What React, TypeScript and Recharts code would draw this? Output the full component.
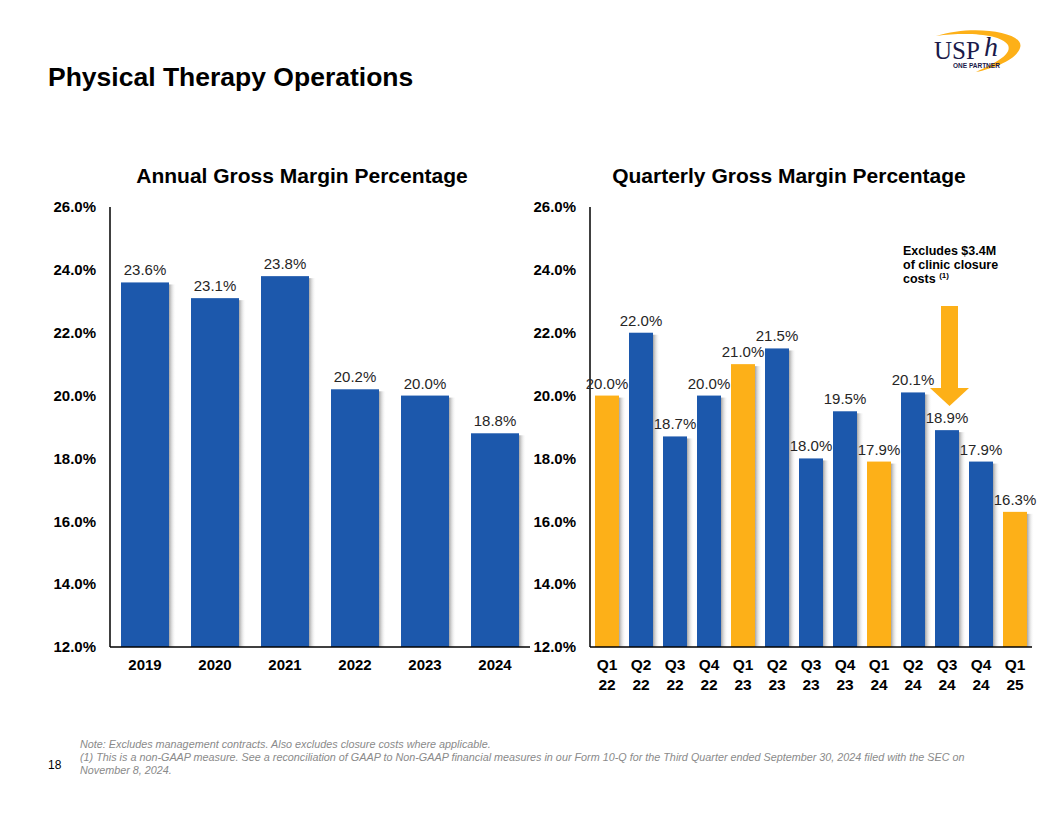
import React from "react";
import { BarChart, Bar, XAxis, YAxis, LabelList } from "recharts";

const annualYears = ["2019", "2020", "2021", "2022", "2023", "2024"];
const annualMargin = [23.6, 23.1, 23.8, 20.2, 20.0, 18.8];

const quarterLabels = ["Q1 22", "Q2 22", "Q3 22", "Q4 22", "Q1 23", "Q2 23", "Q3 23", "Q4 23", "Q1 24", "Q2 24", "Q3 24", "Q4 24", "Q1 25"];
const quarterMargin = [20.0, 22.0, 18.7, 20.0, 21.0, 21.5, 18.0, 19.5, 17.9, 20.1, 18.9, 17.9, 16.3];

const yTicks = [12, 14, 16, 18, 20, 22, 24, 26];

const BLUE = "#1C58AC";
const ORANGE = "#FDB018";
const FONT = "'Liberation Sans', Arial, sans-serif";

const annualData = annualYears.map((y, i) => ({ label: y, value: annualMargin[i] }));
const quarterData = quarterLabels.map((q, i) => ({ label: q, value: quarterMargin[i] }));

const fmt = (v: number) => v.toFixed(1) + "%";

const ShadowBar = (props: any) => {
  const { x, y, width, height, payload } = props;
  if (height == null || height <= 0) return null;
  const isQ1 = typeof payload?.label === "string" && payload.label.startsWith("Q1 ");
  const fill = isQ1 ? ORANGE : BLUE;
  return (
    <g>
      <rect x={x + width} y={y + 2} width={7} height={height - 2} fill="url(#barShadow)" />
      <rect x={x} y={y} width={width} height={height} fill={fill} />
    </g>
  );
};

const QuarterTick = (props: any) => {
  const { x, y, payload } = props;
  const [a, b] = String(payload.value).split(" ");
  return (
    <g>
      <text x={x} y={y + 15} textAnchor="middle" fontFamily={FONT} fontWeight="bold" fontSize={15.5} fill="#000">{a}</text>
      <text x={x} y={y + 35} textAnchor="middle" fontFamily={FONT} fontWeight="bold" fontSize={15.5} fill="#000">{b}</text>
    </g>
  );
};

const yTickStyle = { fontFamily: FONT, fontWeight: "bold", fontSize: 15, fill: "#000" } as any;
const labelStyle = { fontFamily: FONT, fontSize: 15, fill: "#262626" } as any;

export default function App() {
  return (
    <div style={{ position: "relative", width: 1056, height: 816, background: "#fff", overflow: "hidden", fontFamily: FONT }}>
      <style>{`body{margin:0;}`}</style>
      <svg width={0} height={0} style={{ position: "absolute" }}>
        <defs>
          <linearGradient id="barShadow" x1="0" y1="0" x2="1" y2="0">
            <stop offset="0%" stopColor="#9a9a9a" stopOpacity={0.9} />
            <stop offset="100%" stopColor="#ffffff" stopOpacity={0} />
          </linearGradient>
        </defs>
      </svg>

      <div style={{ position: "absolute", left: 48, top: 62, fontSize: 26.5, fontWeight: "bold", color: "#000" }}>
        Physical Therapy Operations
      </div>

      {/* Logo */}
      <svg style={{ position: "absolute", left: 928, top: 26 }} width={100} height={50}>
        <path d="M8 10 C 45 -2, 98 6, 92 22 C 88 34, 66 42, 48 46 C 70 36, 84 28, 80 19 C 72 8, 40 6, 8 10 Z" fill={ORANGE} />
        <text x={6} y={33} fontFamily="'Liberation Serif', 'DejaVu Serif', serif" fontSize={25} fill="#1a1a4a">USP</text>
        <text x={56} y={30} fontFamily="'Liberation Serif', 'DejaVu Serif', serif" fontStyle="italic" fontSize={28} fill="#1a1a4a">h</text>
        <text x={25} y={42} fontFamily={FONT} fontWeight="bold" fontSize={6.5} fill="#1a1a4a">ONE PARTNER</text>
      </svg>

      <div style={{ position: "absolute", left: 102, width: 400, top: 164, textAlign: "center", fontSize: 21, fontWeight: "bold" }}>
        Annual Gross Margin Percentage
      </div>
      <div style={{ position: "absolute", left: 579, width: 420, top: 164, textAlign: "center", fontSize: 21, fontWeight: "bold" }}>
        Quarterly Gross Margin Percentage
      </div>

      <div style={{ position: "absolute", left: 0, top: 190 }}>
        <BarChart width={560} height={500} data={annualData} margin={{ top: 17, right: 30, bottom: 13, left: 0 }}>
          <XAxis dataKey="label" axisLine={{ stroke: "#000", strokeWidth: 1.5 }} tickLine={false} height={30}
            tick={{ fontFamily: FONT, fontWeight: "bold", fontSize: 15, fill: "#000" } as any} tickMargin={6} interval={0} />
          <YAxis domain={[12, 26]} ticks={yTicks} tickFormatter={fmt} width={110} axisLine={{ stroke: "#000", strokeWidth: 1.5 }}
            tickLine={false} tickSize={0} tickMargin={14} tick={yTickStyle} allowDataOverflow />
          <Bar dataKey="value" barSize={48} isAnimationActive={false} shape={<ShadowBar />}>
            <LabelList dataKey="value" position="top" offset={7} formatter={(v: any) => fmt(Number(v))} style={labelStyle} />
          </Bar>
        </BarChart>
      </div>

      <div style={{ position: "absolute", left: 480, top: 190 }}>
        <BarChart width={560} height={520} data={quarterData} margin={{ top: 17, right: 8, bottom: 13, left: 0 }}>
          <XAxis dataKey="label" axisLine={{ stroke: "#000", strokeWidth: 1.5 }} tickLine={false} height={50}
            tick={<QuarterTick />} interval={0} />
          <YAxis domain={[12, 26]} ticks={yTicks} tickFormatter={fmt} width={110} axisLine={{ stroke: "#000", strokeWidth: 1.5 }}
            tickLine={false} tickSize={0} tickMargin={14} tick={yTickStyle} allowDataOverflow />
          <Bar dataKey="value" barSize={24} isAnimationActive={false} shape={<ShadowBar />}>
            <LabelList dataKey="value" position="top" offset={7} formatter={(v: any) => fmt(Number(v))} style={labelStyle} />
          </Bar>
        </BarChart>
      </div>

      {/* Annotation */}
      <div style={{ position: "absolute", left: 903, top: 244, fontSize: 12.5, fontWeight: "bold", lineHeight: "14px", color: "#000" }}>
        Excludes $3.4M<br />of clinic closure<br />costs <sup style={{ fontSize: 8, verticalAlign: "top", position: "relative", top: -3 }}>(1)</sup>
      </div>
      <svg style={{ position: "absolute", left: 925, top: 300 }} width={50} height={110}>
        <polygon points="16,6 33,6 33,88 44,88 24.5,106 5,88 16,88" fill={ORANGE} />
      </svg>

      <div style={{ position: "absolute", left: 48, top: 758, fontSize: 12, color: "#000" }}>18</div>
      <div style={{ position: "absolute", left: 80, top: 738, width: 940, fontSize: 10.8, fontStyle: "italic", color: "#8a8a8a", lineHeight: "13px" }}>
        Note: Excludes management contracts. Also excludes closure costs where applicable.<br />
        (1) This is a non-GAAP measure. See a reconciliation of GAAP to Non-GAAP financial measures in our Form 10-Q for the Third Quarter ended September 30, 2024 filed with the SEC on<br />
        November 8, 2024.
      </div>
    </div>
  );
}
